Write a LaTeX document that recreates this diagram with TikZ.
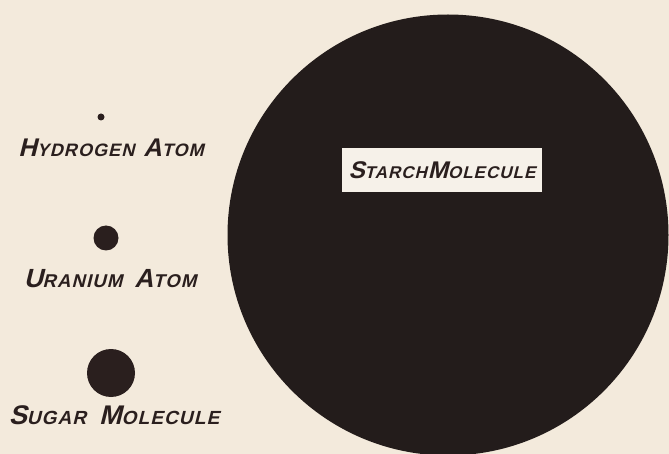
\documentclass[tikz,border=0pt]{standalone}
\usepackage{fontspec}
\usepackage{tikz}
\usetikzlibrary{positioning}
\newfontfamily\handfont[FakeSlant=0.25, LetterSpace=6]{Liberation Sans Bold}
\definecolor{paper}{HTML}{F3EADC}
\definecolor{ink}{HTML}{2A1F1E}
\definecolor{blob}{HTML}{231C1B}
\definecolor{tag}{HTML}{F6F1E9}
% small caps by hand: big first letter, smaller rest
\newcommand{\smc}[3][16]{{\fontsize{\fpeval{#1*1.42}}{0}\selectfont #2}{\fontsize{#1}{0}\selectfont #3}}

\begin{document}
\begin{tikzpicture}[x=1pt, y=-1pt,
  dot/.style={circle, fill=ink, inner sep=0pt},
  lbl/.style={font=\handfont, text=ink, inner sep=0pt},
]
\useasboundingbox (0,0) rectangle (669,454);
\fill[paper] (0,0) rectangle (669,454);
% --- starch ---
\node[circle, fill=blob, minimum size=441pt, inner sep=0pt] (starch) at (448,235) {};
\node[lbl, fill=tag, minimum width=200pt, minimum height=44pt] (starchlbl) at (442,170) {\smc[17]{S}{TARCH}\hspace{1pt}\smc[17]{M}{OLECULE}};
% --- hydrogen ---
\node[dot, minimum size=7pt] (hdot) at (101,117) {};
\node[lbl] (hlbl) at (111,148) {\smc[18]{H}{YDROGEN}\hspace{9pt}\smc[18]{A}{TOM}};
% --- uranium ---
\node[dot, minimum size=25pt] (udot) at (106,238) {};
\node[lbl] (ulbl) at (110,279) {\smc[18.5]{U}{RANIUM}\hspace{12pt}\smc[18.5]{A}{TOM}};
% --- sugar ---
\node[dot, minimum size=48pt] (sdot) at (111,373) {};
\node[lbl] (slbl) at (114,415) {\smc[19]{S}{UGAR}\hspace{13pt}\smc[19]{M}{OLECULE}};
\end{tikzpicture}
\end{document}
